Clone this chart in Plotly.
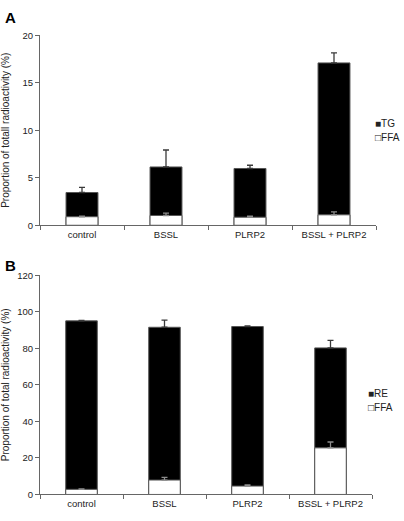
import plotly.graph_objects as go

categories = ["control", "BSSL", "PLRP2", "BSSL + PLRP2"]

# Panel A: total stack height (TG + FFA), FFA, and upper error-bar ends
a_total = [3.45, 6.14, 5.98, 17.1]
a_total_err_top = [4.0, 7.93, 6.32, 18.15]
a_ffa = [0.9, 1.03, 0.85, 1.1]
a_ffa_err_top = [0.95, 1.28, 0.97, 1.42]

# Panel B: total stack height (RE + FFA), FFA, and upper error-bar ends
b_total = [95.0, 91.5, 91.9, 80.2]
b_total_err_top = [95.3, 95.4, 92.2, 84.3]
b_ffa = [2.8, 7.9, 4.6, 25.5]
b_ffa_err_top = [3.0, 9.4, 5.2, 28.7]

a_yticks = [0, 5, 10, 15, 20]
b_yticks = [0, 20, 40, 60, 80, 100, 120]

FONT = "Arial, Liberation Sans, sans-serif"
W, H = 404, 521
BAR_W = 0.38

fig = go.Figure()


def add_panel(total, total_err, ffa, ffa_err, top_name, xaxis, yaxis):
    # full-height black bar (top component stacked on FFA), drawn first
    fig.add_trace(go.Bar(
        x=categories, y=total, name=top_name, xaxis=xaxis, yaxis=yaxis,
        showlegend=False, width=BAR_W,
        marker=dict(color="black", line=dict(color="#555", width=1)),
        error_y=dict(type="data", symmetric=False,
                     array=[e - t for e, t in zip(total_err, total)],
                     arrayminus=[0] * len(total),
                     color="#3a3a3a", thickness=1.3, width=3),
    ))
    # white FFA bar on top of the black one
    fig.add_trace(go.Bar(
        x=categories, y=ffa, name="FFA", xaxis=xaxis, yaxis=yaxis,
        showlegend=False, width=BAR_W,
        marker=dict(color="white", line=dict(color="#555", width=1)),
        error_y=dict(type="data", symmetric=False,
                     array=[e - f for e, f in zip(ffa_err, ffa)],
                     arrayminus=[0] * len(ffa),
                     color="#8c8c8c", thickness=1.3, width=3),
    ))


add_panel(a_total, a_total_err_top, a_ffa, a_ffa_err_top, "TG", "x", "y")
add_panel(b_total, b_total_err_top, b_ffa, b_ffa_err_top, "RE", "x2", "y2")

TICKFONT = dict(family=FONT, size=9.5, color="#222")
axis_common = dict(showline=True, linecolor="#666", linewidth=1, ticks="outside",
                   tickcolor="#666", ticklen=4, showgrid=False, zeroline=False,
                   tickfont=TICKFONT)


def ytitle(text, standoff):
    return dict(text=text, font=dict(family=FONT, size=10, color="#222"),
                standoff=standoff)


def legend_ann(x_px, y_px, symbol, label):
    return dict(text=f"{symbol}{label}",
                x=x_px / W, y=1 - y_px / H, xref="paper", yref="paper",
                xanchor="left", yanchor="middle", showarrow=False,
                font=dict(family=FONT, size=10, color="#222"))


fig.update_layout(
    width=W, height=H,
    margin=dict(l=0, r=0, t=0, b=0),
    paper_bgcolor="white", plot_bgcolor="white",
    barmode="overlay",
    showlegend=False,
    xaxis=dict(domain=[40 / W, 376 / W], anchor="y", type="category",
               tickson="boundaries", range=[-0.5, 3.5], **axis_common),
    yaxis=dict(domain=[1 - 224 / H, 1 - 30 / H], anchor="x", range=[0, 20],
               tickvals=a_yticks,
               title=ytitle("Proportion of totall radioactivity (%)", 12),
               **axis_common),
    xaxis2=dict(domain=[40 / W, 372 / W], anchor="y2", type="category",
                tickson="boundaries", range=[-0.5, 3.5], **axis_common),
    yaxis2=dict(domain=[1 - 499 / H, 1 - 275 / H], anchor="x2", range=[0, 120],
                tickvals=b_yticks,
                title=ytitle("Proportion of total radioactivity (%)", 7),
                **axis_common),
    annotations=[
        dict(text="<b>A</b>", x=3 / W, y=1 - 1 / H, xref="paper", yref="paper",
             xanchor="left", yanchor="top", showarrow=False,
             font=dict(family=FONT, size=15, color="black")),
        dict(text="<b>B</b>", x=3 / W, y=1 - 254 / H, xref="paper", yref="paper",
             xanchor="left", yanchor="top", showarrow=False,
             font=dict(family=FONT, size=15, color="black")),
        legend_ann(373, 120, "■", "TG"),
        legend_ann(373, 134, "□", "FFA"),
        legend_ann(366, 396, "■", "RE"),
        legend_ann(366, 410, "□", "FFA"),
    ],
)

fig.write_html(
    "out.html",
    config={"displayModeBar": False},
    post_script="document.body.style.margin='0';document.body.style.overflow='hidden';",
)
